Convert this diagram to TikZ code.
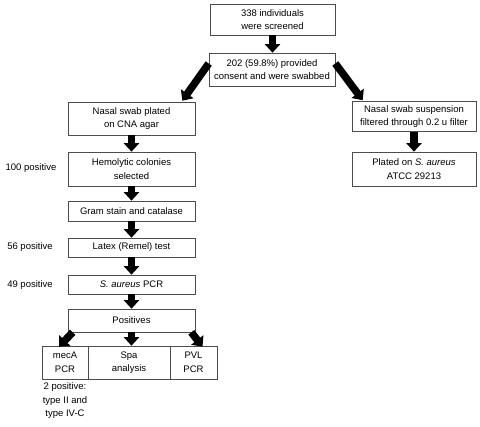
\documentclass[tikz,border=0pt]{standalone}
\usepackage{fontspec}
\setmainfont{Liberation Sans}
\usetikzlibrary{arrows.meta}
\begin{document}
\begin{tikzpicture}[x=1pt,y=-1pt,
 box/.style={draw=black!70, line width=0.6pt, align=center, inner sep=0pt, font=\fontsize{9.5}{13.5}\selectfont},
 lbl/.style={align=center, inner sep=0pt, font=\fontsize{9.5}{13.5}\selectfont},
 bigarrow/.style={line width=7.5pt, -{Triangle[width=15pt,length=8.5pt]}, black}
]
\useasboundingbox (0,0) rectangle (480,427);
\node[box, minimum width=125pt, minimum height=31pt] (b1) at (272.5,19.5) {338 individuals\\were screened};
\node[box, minimum width=126pt, minimum height=33pt] (b2) at (272,69.5) {202 (59.8\%) provided\\consent and were swabbed};
\node[box, minimum width=127pt, minimum height=33pt] (nasal) at (131.5,118.5) {Nasal swab plated\\on CNA agar};
\node[box, minimum width=124pt, minimum height=30pt] (susp) at (414,116.5) {Nasal swab suspension\\filtered through 0.2 u filter};
\node[box, minimum width=124pt, minimum height=34pt] (plated) at (414,169) {Plated on \textit{S. aureus}\\ATCC 29213};
\node[box, minimum width=127pt, minimum height=34pt] (hemo) at (131.5,169) {Hemolytic colonies\\selected};
\node[box, minimum width=127pt, minimum height=20pt] (gram) at (131.5,211) {Gram stain and catalase};
\node[box, minimum width=127pt, minimum height=19pt] (latex) at (131.5,247.5) {Latex (Remel) test};
\node[box, minimum width=127pt, minimum height=19pt] (spcr) at (131.5,284.5) {\textit{S. aureus} PCR};
\node[box, minimum width=127pt, minimum height=23pt] (pos) at (131.5,320.5) {Positives};
\node[box, minimum width=46pt, minimum height=33pt] (meca) at (65,362.5) {mecA\\PCR};
\node[box, minimum width=82pt, minimum height=33pt] (spa) at (129,362.5) {Spa\\analysis};
\node[box, minimum width=47pt, minimum height=33pt] (pvl) at (193.5,362.5) {PVL\\PCR};
\node[lbl] (l100) at (31,168) {100 positive};
\node[lbl] (l56) at (30,247) {56 positive};
\node[lbl] (l49) at (30,285) {49 positive};
\node[lbl, anchor=north] (l2) at (65,382.5) {2 positive:\\type II and\\type IV-C};
\draw[bigarrow] (b1.south) -- (b1.south |- b2.north);
\draw[bigarrow] ([yshift=6pt]b2.west) -- ([xshift=-13pt,yshift=1pt]nasal.north east);
\draw[bigarrow] ([yshift=6pt]b2.east) -- ([xshift=11pt,yshift=1pt]susp.north west);
\draw[bigarrow] (susp.south) -- (susp.south |- plated.north);
\draw[bigarrow] (nasal.south) -- (nasal.south |- hemo.north);
\draw[bigarrow] (hemo.south) -- (hemo.south |- gram.north);
\draw[bigarrow] (gram.south) -- (gram.south |- latex.north);
\draw[bigarrow] (latex.south) -- (latex.south |- spcr.north);
\draw[bigarrow] (spcr.south) -- (spcr.south |- pos.north);
\draw[bigarrow] ([xshift=5pt]pos.south west) -- ([xshift=-6pt,yshift=-1pt]meca.north);
\draw[bigarrow] (pos.south) -- (pos.south |- spa.north);
\draw[bigarrow] ([xshift=-4pt]pos.south east) -- ([xshift=9pt,yshift=-1pt]pvl.north);
\end{tikzpicture}
\end{document}
